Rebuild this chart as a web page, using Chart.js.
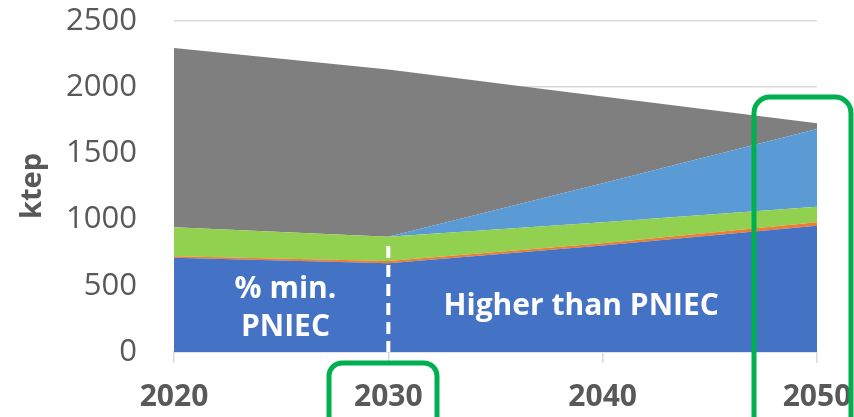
<!DOCTYPE html>
<html>
<head>
<meta charset="utf-8">
<script src="https://cdn.jsdelivr.net/npm/chart.js@4/dist/chart.umd.min.js"></script>
<style>
  html, body { margin: 0; padding: 0; background: #fff; }
  #wrap { width: 854px; height: 417px; position: relative; }
</style>
</head>
<body>
<div id="wrap"><canvas id="demandChart"></canvas></div>
<script>
'use strict';

// ─── data (ktep) ───
const years = [2020, 2030, 2040, 2050];
const baseBlue = [712, 670, 804, 954];
const orangeSlice = [12, 18, 17, 26];
const greenSlice = [218, 183, 159, 117];
const extraBlue = [0, 0, 294, 587];
const greySlice = [1354, 1263, 656, 43];

const yTicks = [0, 500, 1000, 1500, 2000, 2500];
const xTicks = [2020, 2030, 2040, 2050];
const splitYear = 2030;

const FONT = "'Open Sans', sans-serif";
const TEXT = '#595959';
const GRID = '#D9D9D9';
const GREEN_BOX = '#00B050';

function series(label, values, color, first) {
  return {
    label,
    data: years.map((y, i) => ({ x: y, y: values[i] })),
    backgroundColor: color,
    borderColor: color,
    borderWidth: 0,
    pointRadius: 0,
    tension: 0,
    fill: first ? 'origin' : '-1',
  };
}

function roundRect(ctx, x, y, w, h, r) {
  ctx.beginPath();
  ctx.moveTo(x + r, y);
  ctx.lineTo(x + w - r, y);
  ctx.arcTo(x + w, y, x + w, y + r, r);
  ctx.lineTo(x + w, y + h - r);
  ctx.arcTo(x + w, y + h, x + w - r, y + h, r);
  ctx.lineTo(x + r, y + h);
  ctx.arcTo(x, y + h, x, y + h - r, r);
  ctx.lineTo(x, y + r);
  ctx.arcTo(x, y, x + r, y, r);
  ctx.closePath();
}

// annotations: PNIEC split line, area captions, highlight boxes, y title
const overlay = {
  id: 'overlay',
  afterDraw(chart) {
    const { ctx, scales } = chart;
    const xs = scales.x, ys = scales.y;
    const xs30 = xs.getPixelForValue(splitYear);
    ctx.save();

    // dashed split at 2030
    ctx.strokeStyle = '#fff';
    ctx.lineWidth = 4;
    ctx.setLineDash([12, 7]);
    ctx.beginPath();
    ctx.moveTo(xs30, ys.getPixelForValue(800));
    ctx.lineTo(xs30, ys.getPixelForValue(0));
    ctx.stroke();
    ctx.setLineDash([]);

    // captions
    ctx.fillStyle = '#fff';
    ctx.font = `bold 30px ${FONT}`;
    ctx.textAlign = 'center';
    ctx.textBaseline = 'middle';
    const leftX = xs.getPixelForValue(2025.2);
    ctx.fillText('% min.', leftX, ys.getPixelForValue(470));
    ctx.fillText('PNIEC', leftX, ys.getPixelForValue(185));
    ctx.fillText('Higher than PNIEC', xs.getPixelForValue(2039), ys.getPixelForValue(345));

    // y axis title
    ctx.fillStyle = TEXT;
    ctx.font = `bold 29px ${FONT}`;
    ctx.translate(33, 186);
    ctx.rotate(-Math.PI / 2);
    ctx.fillText('ktep', 0, 0);
    ctx.setTransform(1, 0, 0, 1, 0, 0);

    // highlight boxes
    ctx.strokeStyle = GREEN_BOX;
    ctx.lineWidth = 5;
    roundRect(ctx, 329, 363, 108, 80, 13);
    ctx.stroke();
    roundRect(ctx, 754, 97, 97, 360, 16);
    ctx.stroke();

    ctx.restore();
  },
};

new Chart(document.getElementById('demandChart'), {
  type: 'line',
  data: {
    datasets: [
      series('Base', baseBlue, '#4472C4', true),
      series('Other', orangeSlice, '#ED7D31'),
      series('Green', greenSlice, '#92D050'),
      series('Additional', extraBlue, '#5B9BD5'),
      series('Remaining', greySlice, '#7F7F7F'),
    ],
  },
  options: {
    responsive: true,
    maintainAspectRatio: false,
    animation: false,
    layout: { padding: { top: 21, right: 37, left: 0, bottom: 0 } },
    plugins: { legend: { display: false }, tooltip: { enabled: false } },
    scales: {
      x: {
        type: 'linear',
        min: 2020,
        max: 2050,
        afterBuildTicks: axis => { axis.ticks = xTicks.map(v => ({ value: v })); },
        afterFit: axis => {
          axis.height = 65;
          axis.paddingLeft = 0;
          axis.paddingRight = 0;
        },
        grid: { drawOnChartArea: false, drawTicks: true, tickLength: 11, color: GRID, lineWidth: 1.5 },
        border: { color: GRID, width: 1.5 },
        ticks: {
          color: TEXT,
          padding: 16,
          maxRotation: 0,
          font: { family: FONT, size: 30, weight: 'bold' },
          callback: v => String(v),
        },
      },
      y: {
        stacked: true,
        min: 0,
        max: 2500,
        afterBuildTicks: axis => { axis.ticks = yTicks.map(v => ({ value: v })); },
        afterFit: axis => {
          axis.width = 174;
          axis.paddingTop = 0;
          axis.paddingBottom = 0;
        },
        grid: { color: GRID, lineWidth: 1.5, drawTicks: false },
        border: { display: false },
        ticks: {
          color: TEXT,
          padding: 37,
          font: { family: FONT, size: 31 },
          callback: v => String(v),
        },
      },
    },
  },
  plugins: [overlay],
});
</script>
</body>
</html>
